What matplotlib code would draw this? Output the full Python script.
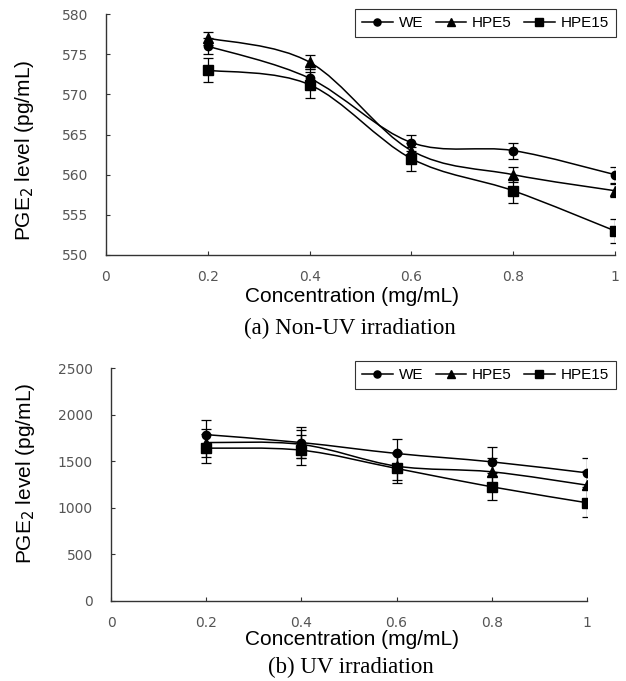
import numpy as np
import matplotlib
matplotlib.use("Agg")
import matplotlib.pyplot as plt
from matplotlib.path import Path
from matplotlib.patches import PathPatch
from matplotlib.lines import Line2D

conc = [0.2, 0.4, 0.6, 0.8, 1.0]
series = ["WE", "HPE5", "HPE15"]
markers = ["o", "^", "s"]
msizes = [6.0, 7.0, 6.5]

# (a) Non-UV irradiation
a_mean = {
    "WE":    [576.0, 572.0, 564.0, 563.0, 560.0],
    "HPE5":  [577.0, 574.0, 563.0, 560.0, 558.0],
    "HPE15": [573.0, 571.2, 562.0, 558.0, 553.0],
}
a_err = {
    "WE":    [1.0, 1.2, 1.0, 1.0, 1.0],
    "HPE5":  [0.8, 0.9, 0.9, 0.9, 0.8],
    "HPE15": [1.5, 1.6, 1.5, 1.5, 1.5],
}

# (b) UV irradiation
b_mean = {
    "WE":    [1785, 1700, 1583, 1493, 1375],
    "HPE5":  [1700, 1680, 1447, 1386, 1243],
    "HPE15": [1640, 1618, 1422, 1225, 1054],
}
b_err = {
    "WE":    [155, 165, 155, 155, 155],
    "HPE5":  [150, 150, 150, 150, 150],
    "HPE15": [155, 160, 160, 145, 150],
}

xticks = [0, 0.2, 0.4, 0.6, 0.8, 1.0]
xticklabels = ["0", "0.2", "0.4", "0.6", "0.8", "1"]
a_yticks = [550, 555, 560, 565, 570, 575, 580]
b_yticks = [0, 500, 1000, 1500, 2000, 2500]

label_font = "Liberation Sans"
tick_font = "DejaVu Sans"
cap_font = "Liberation Serif"
axcol = "#333333"


def smooth_path(x, y):
    # excel-style smoothed line: cubic bezier through the data points
    x = np.asarray(x, float)
    y = np.asarray(y, float)
    px = np.concatenate([[x[0]], x, [x[-1]]])
    py = np.concatenate([[y[0]], y, [y[-1]]])
    verts = [(x[0], y[0])]
    codes = [Path.MOVETO]
    for i in range(1, len(x)):
        c1 = (px[i] + (px[i + 1] - px[i - 1]) / 6, py[i] + (py[i + 1] - py[i - 1]) / 6)
        c2 = (px[i + 1] - (px[i + 2] - px[i]) / 6, py[i + 1] - (py[i + 2] - py[i]) / 6)
        verts += [c1, c2, (px[i + 1], py[i + 1])]
        codes += [Path.CURVE4] * 3
    return Path(verts, codes)


def draw_panel(ax, means, errs, yticks, xlab_pos, ylab_pos):
    for name, m, ms in zip(series, markers, msizes):
        ax.add_patch(PathPatch(smooth_path(conc, means[name]), fill=False,
                               edgecolor="black", lw=1.1, zorder=2))
        ax.errorbar(conc, means[name], yerr=errs[name], fmt="none",
                    ecolor="black", elinewidth=0.9, capsize=3.6, capthick=0.9, zorder=3)
        ax.plot(conc, means[name], linestyle="none", marker=m, markersize=ms,
                color="black", zorder=4)
    ax.set_xlim(0, 1)
    ax.set_ylim(yticks[0], yticks[-1])
    ax.set_xticks(xticks)
    ax.set_xticklabels(xticklabels)
    ax.set_yticks(yticks)
    for s in ["top", "right"]:
        ax.spines[s].set_visible(False)
    for s in ["left", "bottom"]:
        ax.spines[s].set_color(axcol)
        ax.spines[s].set_linewidth(1.0)
    ax.tick_params(direction="in", length=3, width=0.8, color=axcol,
                   labelsize=10, labelcolor="#555555")
    ax.tick_params(axis="y", pad=13)
    ax.tick_params(axis="x", pad=11)
    for lab in ax.get_xticklabels() + ax.get_yticklabels():
        lab.set_family(tick_font)
    ax.set_xlabel("Concentration (mg/mL)", fontsize=15, family=label_font)
    ax.set_ylabel("PGE$_2$ level (pg/mL)", fontsize=15, family=label_font)
    ax.xaxis.set_label_coords(*xlab_pos)
    ax.yaxis.set_label_coords(*ylab_pos)


def add_legend(fig, y0):
    handles = [Line2D([], [], color="black", lw=1.1, marker=m, markersize=ms * 0.85)
               for m, ms in zip(markers, msizes)]
    leg = fig.legend(handles, series, loc="upper right", ncol=3,
                     bbox_to_anchor=(616 / 626, y0), frameon=True, fancybox=False,
                     edgecolor="black", handlelength=2.0, handletextpad=0.4,
                     columnspacing=0.8, borderpad=0.45, borderaxespad=0,
                     prop={"family": label_font, "size": 11})
    leg.get_frame().set_linewidth(0.8)


fig = plt.figure(figsize=(6.26, 6.81), dpi=100)
ax1 = fig.add_axes([106 / 626, 1 - 255 / 681, (615 - 106) / 626, (255 - 14) / 681])
ax2 = fig.add_axes([111 / 626, 1 - 601 / 681, (587 - 111) / 626, (601 - 368) / 681])

draw_panel(ax1, a_mean, a_err, a_yticks, (0.483, -0.133), (-0.138, 0.436))
draw_panel(ax2, b_mean, b_err, b_yticks, (0.506, -0.124), (-0.155, 0.549))

add_legend(fig, 1 - 9 / 681)
add_legend(fig, 1 - 361 / 681)

fig.text(350 / 626, 1 - 328 / 681, "(a) Non-UV irradiation", ha="center", va="center",
         fontsize=16.5, family=cap_font)
fig.text(351 / 626, 1 - 667 / 681, "(b) UV irradiation", ha="center", va="center",
         fontsize=16.5, family=cap_font)

fig.savefig("out.png", dpi=100)
